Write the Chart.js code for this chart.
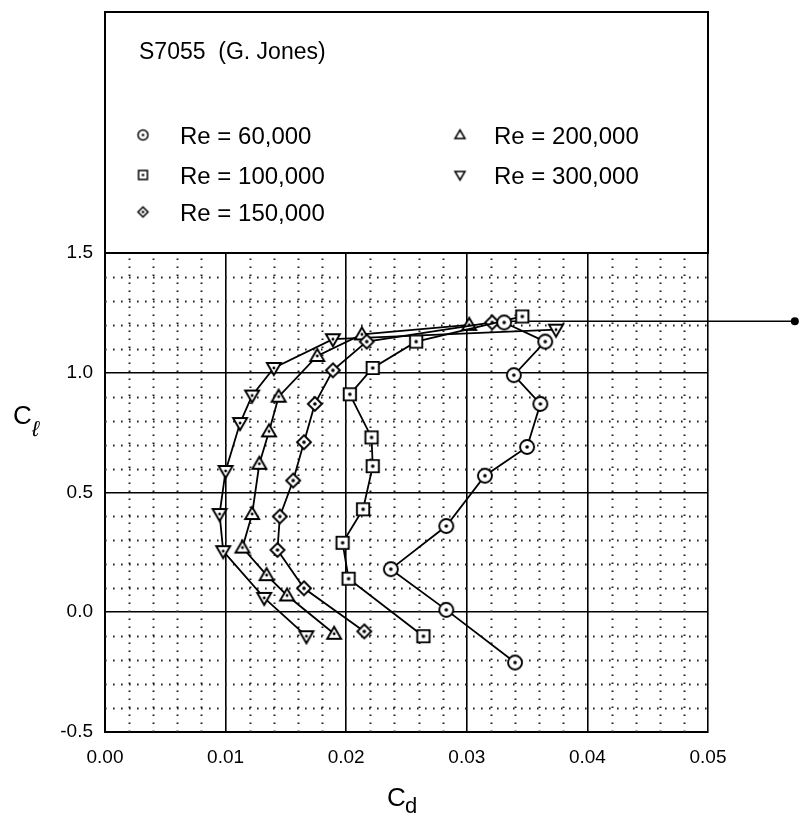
<!DOCTYPE html>
<html>
<head>
<meta charset="utf-8">
<script src="https://cdn.jsdelivr.net/npm/chart.js@4.4.1/dist/chart.umd.min.js"></script>
<style>
  html, body { margin: 0; padding: 0; background: #fff; }
  #wrap { width: 800px; height: 824px; }
</style>
</head>
<body>
<div id="wrap"><canvas id="c" width="800" height="824"></canvas></div>
<script>
// ---- data ----
const chartTitle = "S7055  (G. Jones)";
const seriesLabels = ["Re = 60,000", "Re = 100,000", "Re = 150,000", "Re = 200,000", "Re = 300,000"];

const cd60k  = [0.0340, 0.0283, 0.0237, 0.0283, 0.0315, 0.0350, 0.0361, 0.0339, 0.0365, 0.0331];
const cl60k  = [-0.21, 0.01, 0.18, 0.36, 0.57, 0.69, 0.87, 0.99, 1.13, 1.21];

const cd100k = [0.0264, 0.0202, 0.0197, 0.0214, 0.0222, 0.0221, 0.0203, 0.0222, 0.0258, 0.0346];
const cl100k = [-0.10, 0.14, 0.29, 0.43, 0.61, 0.73, 0.91, 1.02, 1.13, 1.235];

const cd150k = [0.0215, 0.0165, 0.0143, 0.0145, 0.0156, 0.0165, 0.0174, 0.0189, 0.0217, 0.0321];
const cl150k = [-0.08, 0.10, 0.26, 0.40, 0.55, 0.71, 0.87, 1.01, 1.13, 1.21];

const cd200k = [0.0190, 0.0151, 0.0134, 0.0114, 0.0122, 0.0128, 0.0136, 0.0144, 0.0176, 0.0213, 0.0302];
const cl200k = [-0.09, 0.07, 0.155, 0.27, 0.41, 0.62, 0.755, 0.90, 1.07, 1.16, 1.20];

const cd300k = [0.0167, 0.0132, 0.0098, 0.0095, 0.0100, 0.0112, 0.0122, 0.0140, 0.0189, 0.0374];
const cl300k = [-0.10, 0.06, 0.255, 0.41, 0.59, 0.79, 0.905, 1.02, 1.14, 1.18];

// pointer line leaving the plot on the right
const pointerCd = [0.0331, 0.0572];
const pointerCl = [1.215, 1.215];

const xTickValues = [0.00, 0.01, 0.02, 0.03, 0.04, 0.05];
const yTickValues = [-0.5, 0.0, 0.5, 1.0, 1.5];

// ---- helpers ----
function pts(xs, ys) { return xs.map((x, i) => ({ x: x, y: ys[i] })); }

function makeMarker(kind, r, lw, dot) {
  const s = Math.ceil(r * 2 + lw * 2 + 4);
  const c = document.createElement('canvas');
  c.width = s; c.height = s;
  const g = c.getContext('2d');
  const cx = s / 2, cy = s / 2;
  g.lineWidth = lw; g.strokeStyle = '#000'; g.fillStyle = '#fff';
  g.beginPath();
  if (kind === 'circle') {
    g.arc(cx, cy, r, 0, Math.PI * 2);
  } else if (kind === 'square') {
    const h = r * 0.88;
    g.rect(cx - h, cy - h, 2 * h, 2 * h);
  } else if (kind === 'diamond') {
    g.moveTo(cx, cy - r); g.lineTo(cx + r, cy); g.lineTo(cx, cy + r); g.lineTo(cx - r, cy); g.closePath();
  } else if (kind === 'triUp') {
    g.moveTo(cx, cy - r); g.lineTo(cx + r, cy + r * 0.72); g.lineTo(cx - r, cy + r * 0.72); g.closePath();
  } else if (kind === 'triDown') {
    g.moveTo(cx, cy + r); g.lineTo(cx + r, cy - r * 0.72); g.lineTo(cx - r, cy - r * 0.72); g.closePath();
  }
  g.fill(); g.stroke();
  if (dot) {
    g.fillStyle = '#000';
    g.beginPath(); g.arc(cx, cy, dot, 0, Math.PI * 2); g.fill();
  }
  return c;
}

const kinds = ['circle', 'square', 'diamond', 'triUp', 'triDown'];
const bigMarkers = kinds.map(k => makeMarker(k, 7, 1.9, k.startsWith('tri') ? 1.4 : 1.8));
const smallMarkers = kinds.map(k => makeMarker(k, 5, 1.5, k.startsWith('tri') ? 0 : 1.3));

const seriesData = [pts(cd60k, cl60k), pts(cd100k, cl100k), pts(cd150k, cl150k), pts(cd200k, cl200k), pts(cd300k, cl300k)];

const datasets = seriesData.map((d, i) => ({
  label: seriesLabels[i],
  data: d,
  showLine: true,
  borderColor: '#000',
  borderWidth: 1.8,
  pointStyle: bigMarkers[i],
  pointRadius: 7,
  tension: 0,
  order: 1
}));

datasets.push({
  label: 'pointer',
  data: pts(pointerCd, pointerCl),
  showLine: true,
  borderColor: '#000',
  borderWidth: 1.5,
  pointRadius: 0,
  clip: false,
  order: 2
});

const FONT = "'Liberation Sans', Arial, sans-serif";

const decorPlugin = {
  id: 'decor',
  beforeDatasetsDraw(chart) {
    const g = chart.ctx;
    const xs = chart.scales.x, ys = chart.scales.y;
    const a = chart.chartArea;
    g.save();
    g.strokeStyle = '#222';
    g.lineWidth = 2;
    g.setLineDash([1.6, 6.4]);
    for (let k = 1; k < 25; k++) {
      if (k % 5 === 0) continue;
      const px = Math.round(xs.getPixelForValue(k * 0.002)) + 0.5;
      g.beginPath(); g.moveTo(px, a.bottom); g.lineTo(px, a.top); g.stroke();
    }
    for (let k = 1; k < 20; k++) {
      if (k % 5 === 0) continue;
      const py = Math.round(ys.getPixelForValue(-0.5 + k * 0.1)) + 0.5;
      g.beginPath(); g.moveTo(a.left, py); g.lineTo(a.right, py); g.stroke();
    }
    g.restore();
  },
  afterDraw(chart) {
    const g = chart.ctx;
    const a = chart.chartArea;
    const xs = chart.scales.x, ys = chart.scales.y;
    g.save();
    // pointer end dot
    g.fillStyle = '#000';
    g.beginPath();
    g.arc(xs.getPixelForValue(pointerCd[1]), ys.getPixelForValue(pointerCl[1]), 4, 0, Math.PI * 2);
    g.fill();
    // legend / title box
    g.strokeStyle = '#000';
    g.lineWidth = 2;
    g.strokeRect(a.left, 12, a.right - a.left, a.top - 12);
    g.fillStyle = '#000';
    g.textBaseline = 'alphabetic';
    g.textAlign = 'left';
    g.font = "23px " + FONT;
    g.fillText(chartTitle, 139, 59);
    g.font = "24px " + FONT;
    const rows = [135, 175, 212, 135, 175];
    const markerX = [143, 143, 143, 460, 460];
    const textX = [180, 180, 180, 494, 494];
    for (let i = 0; i < 5; i++) {
      const m = smallMarkers[i];
      g.drawImage(m, markerX[i] - m.width / 2, rows[i] - m.height / 2);
      g.fillText(seriesLabels[i], textX[i], rows[i] + 9);
    }
    // axis titles
    g.font = "26px " + FONT;
    g.fillText("C", 387, 806);
    g.font = "22px " + FONT;
    g.fillText("d", 405, 813);
    g.font = "26px " + FONT;
    g.fillText("C", 13, 424);
    g.font = "italic 22px " + FONT;
    g.fillText("\u2113", 32, 436);
    g.restore();
  }
};

new Chart(document.getElementById('c'), {
  type: 'scatter',
  data: { datasets: datasets },
  options: {
    responsive: false,
    animation: false,
    events: [],
    layout: { padding: { left: 0, right: 92, top: 253, bottom: 0 } },
    plugins: { legend: { display: false }, tooltip: { enabled: false } },
    scales: {
      x: {
        type: 'linear', min: 0, max: 0.05,
        afterBuildTicks(s) { s.ticks = xTickValues.map(v => ({ value: v })); },
        ticks: { callback: v => Number(v).toFixed(2), font: { family: FONT, size: 19 }, color: '#000', padding: 14, maxRotation: 0 },
        grid: { color: '#000', lineWidth: 1.6, drawTicks: false },
        border: { color: '#000', width: 2 },
        afterFit(s) { s.height = 92; }
      },
      y: {
        type: 'linear', min: -0.5, max: 1.5,
        afterBuildTicks(s) { s.ticks = yTickValues.map(v => ({ value: v })); },
        ticks: { callback: v => Number(v).toFixed(1), font: { family: FONT, size: 19 }, color: '#000', padding: 12 },
        grid: { color: '#000', lineWidth: 1.6, drawTicks: false },
        border: { color: '#000', width: 2 },
        afterFit(s) { s.width = 105; }
      }
    }
  },
  plugins: [decorPlugin]
});
</script>
</body>
</html>
